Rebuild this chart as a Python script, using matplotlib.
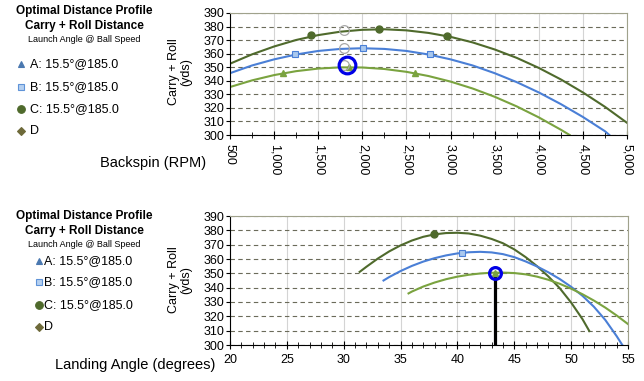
import matplotlib
matplotlib.use("Agg")
import matplotlib.pyplot as plt
from matplotlib.lines import Line2D
from matplotlib.ticker import MultipleLocator, FuncFormatter

plt.rcParams['font.family'] = ['Liberation Sans', 'DejaVu Sans']

# --- data: top chart (backspin) ---
spin_a = [500, 750, 1000, 1250, 1500, 1750, 2000, 2250, 2500, 2750, 3000, 3250, 3500, 3750, 4000, 4250, 4350]
dist_a = [335.4, 340.3, 344.2, 347.1, 349.0, 349.9, 349.8, 348.7, 346.6, 343.5, 339.4, 334.3, 328.2, 321.1, 313.0, 303.9, 300.0]
spin_b = [500, 750, 1000, 1250, 1500, 1750, 2000, 2250, 2500, 2750, 3000, 3250, 3500, 3750, 4000, 4250, 4500, 4750, 4800]
dist_b = [345.6, 351.3, 355.8, 359.4, 362.0, 363.5, 364.0, 363.5, 362.0, 359.4, 355.8, 351.3, 345.6, 339.0, 331.4, 322.8, 313.3, 302.8, 300.0]
spin_c = [500, 750, 1000, 1250, 1500, 1750, 2000, 2250, 2500, 2750, 3000, 3250, 3500, 3750, 4000, 4250, 4500, 4750, 5000]
dist_c = [352.6, 359.5, 365.3, 370.1, 373.7, 376.2, 377.6, 378.0, 377.2, 375.3, 372.4, 368.3, 363.1, 356.9, 349.5, 341.0, 331.4, 320.8, 309.0]

mk_spin_a = [1100, 1850, 2600]
mk_dist_a = [345.8, 350.3, 345.8]
mk_spin_b = [1240, 2005, 2770]
mk_dist_b = [360.0, 364.5, 360.0]
mk_spin_c = [1420, 2190, 2955]
mk_dist_c = [373.6, 378.5, 373.4]
grey_spin = [1795, 1795, 1795]
grey_dist = [377.5, 364.3, 351.8]
opt_spin, opt_dist = 1830, 351.5

# --- data: bottom chart (landing angle) ---
ang_a = [35.7, 36, 37, 38, 39, 40, 41, 42, 43, 43.5, 44, 45, 46, 47, 48, 49, 50, 51, 52, 53, 54, 55]
land_a = [336.0, 337.3, 340.8, 343.6, 345.9, 347.7, 349.0, 349.9, 350.4, 350.5, 350.5, 350.2, 349.3,
          347.7, 345.5, 342.7, 339.3, 335.4, 331.0, 326.1, 320.6, 314.6]
ang_b = [33.5, 34, 35, 36, 37, 38, 39, 40, 41, 42, 43, 44, 45, 46, 47, 48, 49, 50, 51, 52, 53, 54, 54.5]
land_b = [345.0, 347.4, 351.6, 355.2, 358.2, 360.6, 362.5, 363.9, 364.7, 365.0, 364.6, 363.4, 361.3,
          358.3, 354.8, 350.7, 346.0, 340.6, 334.3, 326.7, 317.5, 306.2, 300.0]
ang_c = [31.4, 32, 33, 34, 35, 36, 37, 38, 39, 40, 41, 42, 43, 44, 45, 46, 47, 48, 49, 50, 51, 51.6]
land_c = [351.0, 354.6, 360.3, 365.3, 369.5, 372.9, 375.5, 377.2, 378.1, 378.3, 377.8, 376.3, 374.0,
          371.0, 366.7, 361.3, 355.0, 347.8, 339.6, 329.6, 318.0, 309.7]
mk_ang = [43.3, 40.4, 37.9]
mk_land = [350.0, 364.5, 377.2]
opt_ang = 43.3

legend_labels = ['A: 15.5°@185.0', 'B: 15.5°@185.0', 'C: 15.5°@185.0', 'D']

col_a = '#7aa33f'
col_b = '#4a7fd6'
col_c = '#4f6a2c'
col_d = '#6e6a3a'
col_tri = '#4a78b0'

W, H = 644, 381
fig = plt.figure(figsize=(W / 100, H / 100), dpi=100)


def fx(px):
    return px / W


def fy(py):
    return 1 - py / H


def style_axes(ax):
    ax.set_ylim(300, 390)
    ax.yaxis.set_major_locator(MultipleLocator(10))
    ax.grid(axis='y', color='#6b6b5a', linestyle=(0, (4, 3)), linewidth=0.8)
    ax.grid(axis='x', color='#d4d4d4', linestyle='-', linewidth=0.8)
    ax.set_axisbelow(True)
    for s in ['top', 'right']:
        ax.spines[s].set_color('#a0a28c')
    for s in ['left', 'bottom']:
        ax.spines[s].set_color('black')
    ax.tick_params(axis='y', labelsize=9, length=3, pad=1)
    ax.tick_params(axis='x', which='both', direction='inout', labelsize=9)
    ax.tick_params(axis='x', which='major', length=6)
    ax.tick_params(axis='x', which='minor', length=4)


def side_panel(top):
    fig.text(fx(84), fy(top), 'Optimal Distance Profile', ha='center', va='center',
             fontsize=8.5, fontweight='bold')
    fig.text(fx(84), fy(top + 15), 'Carry + Roll Distance', ha='center', va='center',
             fontsize=8.5, fontweight='bold')
    fig.text(fx(84), fy(top + 28), 'Launch Angle @ Ball Speed', ha='center', va='center',
             fontsize=6.5)


def legend_rows(x_mk, gap, ys):
    marks = [('^', col_tri, col_tri, 4.5), ('s', '#b5d0f0', '#5f93d8', 4.5),
             ('o', col_c, col_c, 5.5), ('D', col_d, col_d, 4)]
    for (m, fc, ec, sz), lab, y in zip(marks, legend_labels, ys):
        fig.add_artist(Line2D([fx(x_mk)], [fy(y)], marker=m, markersize=sz,
                              markerfacecolor=fc, markeredgecolor=ec,
                              markeredgewidth=0.8, linestyle='none'))
        fig.text(fx(x_mk + gap), fy(y), lab, ha='left', va='center', fontsize=9)


# ---------- top chart ----------
ax1 = fig.add_axes([fx(230), fy(135), fx(627) - fx(230), fy(13) - fy(135)])
ax1.plot(spin_c, dist_c, color=col_c, lw=1.5)
ax1.plot(spin_b, dist_b, color=col_b, lw=1.5)
ax1.plot(spin_a, dist_a, color=col_a, lw=1.5)
ax1.plot(mk_spin_c, mk_dist_c, 'o', color=col_c, ms=5, ls='none')
ax1.plot(mk_spin_b, mk_dist_b, 's', mfc='#a9c8ee', mec=col_b, ms=5, mew=0.8, ls='none')
ax1.plot(mk_spin_a, mk_dist_a, '^', color=col_a, ms=5, ls='none')
ax1.plot(grey_spin, grey_dist, 'o', mfc='none', mec='#a8a8a8', ms=7, mew=0.9, ls='none')
ax1.plot([opt_spin], [opt_dist], 'o', mfc='none', mec='#0000e6', ms=12, mew=2.3, ls='none')
ax1.set_xlim(500, 5000)
ax1.xaxis.set_major_locator(MultipleLocator(500))
ax1.xaxis.set_minor_locator(MultipleLocator(250))
ax1.xaxis.set_major_formatter(FuncFormatter(lambda v, p: f'{int(v):,}'))
style_axes(ax1)
for lab in ax1.get_xticklabels():
    lab.set_rotation(-90)
    lab.set_va('top')
    lab.set_ha('center')
fig.text(fx(153), fy(163), 'Backspin (RPM)', ha='center', va='center', fontsize=10.5)
fig.text(fx(180), fy(72), 'Carry + Roll\n(yds)', ha='center', va='center',
         rotation=90, fontsize=9, linespacing=1.0)
side_panel(11)
legend_rows(21, 9, [64, 87, 109, 131])

# ---------- bottom chart ----------
ax2 = fig.add_axes([fx(230), fy(345), fx(628) - fx(230), fy(216) - fy(345)])
ax2.plot(ang_c, land_c, color=col_c, lw=1.5)
ax2.plot(ang_b, land_b, color=col_b, lw=1.5)
ax2.plot(ang_a, land_a, color=col_a, lw=1.5)
ax2.plot([opt_ang, opt_ang], [300, mk_land[0]], color='black', lw=2.3, solid_capstyle='butt')
ax2.plot(mk_ang[2], mk_land[2], 'o', color=col_c, ms=5)
ax2.plot(mk_ang[1], mk_land[1], 's', mfc='#a9c8ee', mec=col_b, ms=5, mew=0.8)
ax2.plot(mk_ang[0], mk_land[0], '^', color=col_a, ms=5)
ax2.plot(mk_ang[0], mk_land[0], 'o', mfc='none', mec='#0000e6', ms=8.5, mew=2.3)
ax2.set_xlim(20, 55)
ax2.xaxis.set_major_locator(MultipleLocator(5))
ax2.xaxis.set_minor_locator(MultipleLocator(1))
style_axes(ax2)
fig.text(fx(135), fy(365), 'Landing Angle (degrees)', ha='center', va='center', fontsize=10.5)
fig.text(fx(180), fy(280), 'Carry + Roll\n(yds)', ha='center', va='center',
         rotation=90, fontsize=9, linespacing=1.0)
side_panel(216)
legend_rows(39, 5, [261, 282, 305, 327])

fig.savefig('out.png', dpi=100)
